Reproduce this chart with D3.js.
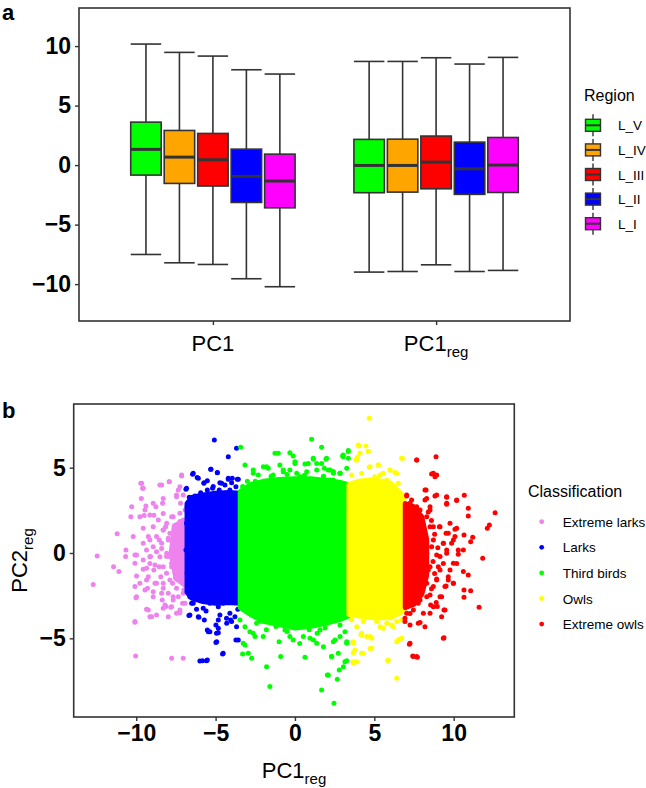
<!DOCTYPE html>
<html>
<head>
<meta charset="utf-8">
<script src="https://cdn.jsdelivr.net/npm/d3@7"></script>
<style>
  html, body { margin: 0; padding: 0; background: #fff; }
  svg { display: block; font-family: "Liberation Sans", Arial, Helvetica, sans-serif; }
</style>
</head>
<body>
<svg id="chart" width="646" height="788"></svg>
<script>
// ---------------- Panel a data (boxplots) ----------------
const groups = ["PC1", "PC1reg"];
const regions = ["L_V", "L_IV", "L_III", "L_II", "L_I"];
const regionColors = ["#00FF00", "#FFA500", "#FF0000", "#0000FF", "#FF00FF"];
const yTicksA = [-10, -5, 0, 5, 10];

// PC1 (order L_V .. L_I)
const pc1Min = [-7.51, -8.21, -8.35, -9.55, -10.22];
const pc1Q1  = [-0.84, -1.54, -1.76, -3.14, -3.59];
const pc1Med = [1.32, 0.67, 0.45, -0.95, -1.34];
const pc1Q3  = [3.61, 2.91, 2.66, 1.34, 0.92];
const pc1Max = [10.17, 9.47, 9.16, 8.01, 7.65];

// PC1reg
const regMin = [-8.99, -8.94, -8.38, -8.94, -8.85];
const regQ1  = [-2.32, -2.27, -1.99, -2.46, -2.30];
const regMed = [-0.03, -0.03, 0.25, -0.31, 0.00];
const regQ3  = [2.16, 2.18, 2.44, 1.93, 2.32];
const regMax = [8.71, 8.71, 9.02, 8.49, 9.05];

// ---------------- Panel b data (scatter) ----------------
const classes = ["Extreme larks", "Larks", "Third birds", "Owls", "Extreme owls"];
const classColors = ["#EE82EE", "#0000FF", "#00FF00", "#FFFF00", "#FF0000"];
const xTicksB = [-10, -5, 0, 5, 10];
const yTicksB = [-5, 0, 5];

// outlines of the fully overlapped (solid) part of each class
const extremeLarksCore = [[-7.6,1.6],[-6.9,1.9],[-6.9,-1.9],[-7.5,-1.5],[-7.8,0]];
const larksCore = [[-6.8,2.9],[-6.5,3.25],[-5.8,3.4],[-5.0,3.5],[-4.2,3.55],[-3.45,3.5],[-3.45,-2.95],[-4.2,-2.9],[-5.0,-2.95],[-5.8,-2.85],[-6.5,-2.65],[-6.8,-2.3]];
const thirdBirdsCore = [[-3.45,3.6],[-2.8,4.0],[-2,4.2],[-1,4.3],[0,4.35],[1,4.35],[2,4.25],[2.8,4.15],[3.35,4.0],[3.35,-3.7],[2.8,-3.9],[2,-4.1],[1,-4.3],[0,-4.4],[-1,-4.2],[-2,-4.0],[-2.8,-3.6],[-3.45,-3.2]];
const owlsCore = [[3.4,4.0],[4,4.2],[5,4.3],[6,4.1],[6.85,3.3],[6.85,-3.4],[6,-3.8],[5,-3.8],[4,-3.7],[3.4,-3.6]];
const extremeOwlsCore = [[6.95,2.9],[7.5,2.7],[8.0,2.1],[8.3,0.8],[8.3,-1.3],[8.0,-2.4],[7.5,-3.0],[6.95,-3.2]];

// individually visible points
const extremeLarksPts = [
  [-12.71,-1.84],[-12.46,-0.18],[-11.20,1.13],[-11.43,-0.80],[-11.09,-1.09],[-10.65,0.18],[-10.67,-0.21],
  [-10.29,2.71],[-10.34,2.13],[-10.19,0.96],[-10.08,-0.12],[-9.98,-1.35],[-10.08,-1.97],[-10.02,-2.62],
  [-10.08,-4.06],[-10.04,-6.04],[-9.71,4.08],[-9.60,3.79],[-9.68,3.20],[-9.39,2.75],[-9.50,2.19],[-9.56,1.45],
  [-9.24,0.96],[-9.35,0.18],[-9.10,-0.21],[-9.14,-0.61],[-9.56,-0.96],[-9.24,-1.39],[-9.29,-2.07],[-9.35,-3.30],
  [-9.03,-3.73],[-8.93,1.54],[-8.89,2.21],[-8.76,2.71],[-8.51,3.98],[-8.34,2.91],[-8.30,2.32],[-8.72,0.08],
  [-8.55,-0.80],[-8.45,-1.39],[-8.30,-2.07],[-8.36,-2.75],[-8.13,-3.14],[-7.98,-3.73],[-7.77,-6.17],[-7.04,-6.17],
  [-7.67,-2.56],[-7.71,-1.78],[-7.56,-1.00],[-7.46,3.30],[-7.92,4.18],[-7.14,4.51],[-7.35,3.69],[-7.21,2.91],
  [-7.25,-3.50],[-7.08,-2.95],[-7.00,-2.17],[-8.15,1.54],[-7.98,0.86],[-7.88,-0.21],[-8.09,-1.19],[-7.77,2.13],
  [-7.56,1.54],[-7.46,0.57],[-7.35,-0.21],[-7.50,-1.48],[-7.25,1.84],[-7.14,1.15],[-7.08,0.18],[-7.14,-0.80],
  [-7.04,-1.39],[-6.93,2.52],[-6.91,0.86],[-6.93,-0.41],[-6.91,-1.78],[-8.55,0.76],[-8.89,-1.00],[-8.72,-1.78],
  [-7.67,0.96],[-8.30,1.35],[-8.09,-0.21],[-8.40,0.27],[-7.77,-0.80],[-7.35,-2.56],[-7.82,-3.18],[-8.93,-2.56],
  [-8.72,-3.63],
  [-9.66,4.08],[-9.56,3.79],[-8.40,3.98],[-7.92,4.18],[-7.14,4.57],[-7.25,3.88],[-7.04,3.40],[-7.46,3.40],
  [-8.30,3.20],[-8.93,2.91],[-9.45,2.52],[-9.14,2.23],[-9.77,2.13],[-8.61,1.93],[-8.08,1.74],[-8.30,1.35],
  [-7.67,2.13],[-7.25,2.33],[-7.04,1.93],[-7.46,1.54],[-7.88,1.15],[-8.72,0.96],[-9.14,0.76],[-9.56,0.57],
  [-8.93,0.37],[-8.40,0.57],[-7.98,0.76],[-7.46,0.76],[-7.04,0.96],[-6.93,0.37],[-7.25,-0.02],[-7.67,0.18],
  [-8.08,-0.02],[-8.51,-0.22],[-9.14,-0.22],[-9.56,-0.41],[-9.98,-0.12],[-10.08,-0.60],[-9.35,-0.90],
  [-8.82,-0.70],[-8.30,-0.80],[-7.77,-0.60],[-7.25,-0.80],[-7.04,-1.19],[-7.46,-1.39],[-7.88,-1.58],
  [-8.30,-1.78],[-8.82,-1.78],[-9.35,-1.58],[-9.77,-1.78],[-9.45,-2.17],[-8.93,-2.27],[-8.40,-2.36],
  [-7.98,-2.36],[-7.46,-2.07],[-7.04,-2.36],[-7.67,-2.75],[-8.19,-3.05],[-7.77,-3.15],[-7.25,-3.34],
  [-6.93,-2.95],[-9.98,-2.56],[-9.24,-3.34],[-9.14,-3.73],[-10.08,-4.02],[-7.46,-3.53],[-8.30,-3.24]
];
const larksPts = [
  [-5.08,6.62],[-3.68,6.13],[-4.20,5.64],[-5.29,4.90],[-4.89,4.71],[-6.45,4.61],[-6.16,4.43],[-5.74,4.08],
  [-6.83,3.79],[-4.20,4.38],[-3.95,4.38],[-3.57,4.32],[-4.62,4.08],[-5.15,3.89],[-6.68,-3.67],[-6.05,-3.77],
  [-5.71,-3.93],[-5.46,-4.61],[-4.94,-4.71],[-4.83,-4.41],[-5.99,-6.33],[-5.57,-6.31],[-4.56,-5.92],[-3.57,-5.10],
  [-4.05,-3.93],[-4.98,-5.25],[-4.31,-3.83],[-3.68,-4.32],[-6.51,-2.95],[-4.73,-3.63],
  [-6.41,4.67],[-6.09,4.38],[-5.73,4.12],[-5.52,4.24],[-5.31,4.90],[-4.89,4.70],[-4.73,4.12],[-4.41,3.98],
  [-4.20,4.32],[-3.99,4.12],[-3.63,4.32],[-3.72,3.88],[-4.10,3.69],[-4.77,3.69],[-5.19,3.79],[-5.52,3.69],
  [-5.94,3.53],[-6.87,3.73],[-6.66,3.26],[-6.30,3.34],[-5.99,3.06],[-6.62,-3.63],[-6.09,-3.73],[-5.78,-3.24],
  [-5.36,-2.95],[-4.83,-3.15],[-4.52,-2.95],[-4.10,-3.53],[-3.78,-3.73],[-3.99,-4.02],[-4.30,-4.12],
  [-4.83,-3.93],[-4.98,-4.22],[-5.52,-4.51],[-5.36,-4.61],[-4.83,-4.67],[-4.93,-5.20],[-3.72,-5.10],
  [-4.52,-5.88],[-5.82,-6.31],[-5.52,-6.27],[-6.79,2.71],[-6.83,1.74],[-6.87,0.18],[-6.79,-1.19],
  [-6.72,-2.17],[-6.62,-2.56],[-6.41,-2.95],[-6.19,-2.36],[-3.6,-3.3],[-5.6,-3.4],[-6.2,-3.3]
];
const thirdBirdsPts = [
  [-3.42,6.19],[-3.15,5.16],[-2.63,4.86],[-1.79,5.06],[-1.26,5.84],[-1.05,5.84],[-0.32,5.88],[-0.11,5.68],
  [0.0,5.35],[1.05,6.66],[1.68,6.19],[1.16,5.49],[0.63,5.21],[2.10,4.86],[-0.74,4.86],[-2.31,4.57],
  [-2.94,-5.88],[-3.30,-5.92],[-1.79,-6.66],[-1.58,-7.83],[1.68,-8.03],[2.04,-7.15],[-0.90,-6.07],[0.63,-6.11],
  [-0.32,-4.90],[-3.15,-5.39],[-2.63,-4.71],[-2.00,-4.90],[-0.63,-4.51],[-0.11,-5.10],[0.53,-4.90],[1.16,-5.10],
  [1.58,-4.51],[-2.42,-4.12],[3.36,6.00],[3.00,5.68],[3.36,5.55],[1.95,5.49],[1.37,5.25],[1.85,4.96],
  [2.84,4.67],[2.42,4.77],[2.21,4.28],[2.46,-8.81],[2.10,-7.15],[2.67,-7.40],[2.79,-6.86],[3.05,-6.66],
  [3.26,-6.31],[2.31,-6.07],[1.79,-5.49],[1.37,-5.29],[2.42,-5.20],[3.26,-5.20],[2.84,-4.90],[0.95,-5.00],
  [0.0,5.25],[-0.32,4.86],[0.11,4.67],[1.99,5.55],[1.68,5.25],[1.15,5.55],[0.84,5.25],[1.37,4.86],
  [0.74,4.76],[2.21,4.86],[2.84,4.67],[3.04,5.64],[-1.99,5.06],[-1.68,4.96],[-2.63,4.67],[-0.95,5.16],
  [-0.74,4.76],[-1.37,4.57],[0.11,4.08],[1.58,4.08],[0.32,4.47],[2.41,4.28],[-3.0,4.2],[-3.3,3.9],
  [-3.47,-3.93],[-3.15,-4.32],[-2.84,-4.61],[-3.26,-5.29],[-2.52,-4.90],[-2.73,-6.17],
  [2.42,-3.93],[2.84,-4.22],[3.15,-4.61],[2.52,-5.10],[3.26,-5.29],[2.73,-5.88],[3.15,-6.37],[2.31,-6.07],
  [3.04,5.74],[3.36,5.94],[2.42,4.67],[2.84,4.67],[3.26,4.96],
  [-1.2,-4.3],[-0.5,-4.6],[0.9,-4.5],[1.9,-4.4],[-2.2,-4.0],[0.3,-5.3],[-1.0,-5.2],[1.4,-4.7],[-1.8,-4.5],
  [-1.5,4.5],[-0.5,4.6],[0.6,4.55],[1.8,4.5],[-2.5,4.2]
];
const owlsPts = [
  [4.68,7.89],[4.05,6.27],[4.47,6.27],[4.62,5.94],[3.93,5.61],[3.84,5.45],[5.25,5.16],[4.68,5.02],
  [6.77,5.55],[5.99,4.86],[6.30,4.71],[5.36,4.57],[3.68,-6.46],[3.89,-6.37],[3.68,-5.84],[4.20,-5.88],
  [4.73,-5.59],[4.52,-4.90],[4.83,-5.00],[4.16,-4.80],[3.68,-5.20],[5.84,-6.31],[6.41,-7.34],[6.41,-5.20],
  [6.62,-5.06],[5.36,-4.32],[6.09,-4.22],
  [3.99,6.33],[4.10,5.84],[3.89,5.45],[4.62,5.94],[6.72,5.55],[4.73,5.06],[5.25,5.16],[5.99,4.86],
  [6.41,4.67],[3.57,4.57],[4.20,4.67],[5.56,4.67],[6.51,4.08],[5.78,4.28],[5.04,4.47],[6.72,3.40],
  [4.30,4.18],[3.57,-3.93],[3.89,-4.32],[4.30,-4.02],[4.73,-4.90],[4.20,-4.71],[3.67,-5.29],[3.78,-5.68],
  [4.30,-5.88],[4.83,-5.58],[3.67,-6.37],[5.88,-6.27],[6.51,-5.10],[6.72,-5.00],[5.15,-4.02],[5.78,-4.12],
  [6.41,-4.02],[6.72,-3.93],[5.56,-4.41],[6.19,-4.32]
];
const extremeOwlsPts = [
  [7.67,5.45],[8.89,5.64],[8.61,4.63],[8.82,4.47],[8.26,3.69],[8.82,3.34],[8.19,3.11],[7.04,3.34],[7.25,2.91],
  [9.56,3.26],[9.56,2.85],[10.19,3.07],[10.67,3.38],[10.92,2.62],[10.92,2.17],[12.61,2.36],[12.25,1.64],
  [12.12,1.45],[9.10,1.54],[9.52,1.15],[10.08,1.39],[10.08,0.96],[10.65,1.05],[11.20,0.92],[11.07,0.66],
  [10.61,0.18],[10.29,-0.08],[11.83,-0.31],[10.19,-0.61],[9.77,-1.00],[10.61,-1.09],[10.92,-1.29],[9.98,-1.78],
  [9.52,-1.93],[10.65,-2.17],[11.07,-2.21],[10.65,-2.60],[11.60,-3.18],[9.39,-3.34],[8.97,-3.14],[8.55,-3.05],
  [7.88,-4.08],[8.19,-4.32],[7.21,-5.35],[7.42,-6.04],[7.67,-6.07],[9.39,-4.96],[8.93,-1.52],[9.03,-0.80],
  [9.14,-0.21],[9.56,0.18],[9.35,0.57],[8.72,1.54],[8.30,2.13],[7.88,2.52],[8.61,0.37],[8.40,-1.00],
  [8.72,-1.97],[8.30,-2.56],[7.77,-2.95],[7.25,-3.54],[6.93,-3.83],[7.56,-1.78],[7.88,-0.21],[7.56,1.35],
  [9.77,1.74],[9.87,0.57],[9.35,-0.61],[9.66,-1.58],[9.24,-2.56],[7.98,-1.39],[7.35,-1.00],[7.46,0.57],
  [8.09,0.96],[8.51,2.71],
  [7.04,3.40],[7.35,3.10],[7.67,2.71],[8.19,3.69],[8.30,3.20],[8.51,2.52],[8.93,3.40],[9.56,2.91],
  [9.56,3.30],[10.19,3.10],[8.72,4.67],[8.93,4.57],[7.67,5.45],[7.25,2.13],[7.88,1.93],[8.51,1.54],
  [9.14,1.54],[9.66,1.15],[10.19,1.45],[7.04,1.15],[7.56,0.76],[8.09,0.96],[8.72,0.76],[9.35,0.57],
  [9.98,0.76],[10.29,0.18],[7.14,-0.02],[7.67,-0.22],[8.30,-0.02],[8.93,-0.12],[9.56,-0.02],[9.98,-0.60],
  [7.25,-1.00],[7.88,-1.19],[8.51,-0.80],[9.14,-1.00],[9.66,-1.39],[7.04,-1.78],[7.67,-1.97],[8.30,-1.78],
  [8.93,-1.58],[9.45,-1.97],[9.98,-1.78],[7.25,-2.56],[7.88,-2.75],[8.51,-2.46],[9.14,-2.56],[7.46,-3.34],
  [8.09,-3.53],[8.72,-3.15],[7.04,-3.53],[7.77,-4.12],[7.25,-4.22],[8.51,-3.53],[9.45,-3.34],[9.24,-3.73],
  [7.25,-5.29],[7.46,-6.07],[7.71,-6.11],[9.35,-5.00],[6.93,-4.02],
  [8.6,1.9],[8.8,1.1],[8.7,-0.5],[8.8,-1.2],[8.6,-2.1],[8.4,2.4],[9.0,0.3],[8.9,-2.9]
];

const coreByClass = [extremeLarksCore, larksCore, thirdBirdsCore, owlsCore, extremeOwlsCore];
const ptsByClass = [extremeLarksPts, larksPts, thirdBirdsPts, owlsPts, extremeOwlsPts];

// ---------------- Drawing ----------------
const svg = d3.select("#chart");
const ink = "#333333";
const tickFont = 23;
const titleFont = 22;
const subFont = 15;

// ===== Panel a =====
const A = {left: 79, right: 570, top: 8, bottom: 321};
const xA = d3.scalePoint().domain(groups).range([A.left, A.right]).padding(0.6);
const stepA = xA.step();
const xInner = d3.scaleBand().domain(regions)
  .range([-0.375 * stepA, 0.375 * stepA]).paddingInner(0.09).paddingOuter(0.045);
const yA = d3.scaleLinear().domain([-13.1, 13.2]).range([A.bottom, A.top]);

const gA = svg.append("g");

const statsA = {
  "PC1": {min: pc1Min, q1: pc1Q1, med: pc1Med, q3: pc1Q3, max: pc1Max},
  "PC1reg": {min: regMin, q1: regQ1, med: regMed, q3: regQ3, max: regMax}
};
const boxes = [];
groups.forEach(g => regions.forEach((r, i) => {
  const s = statsA[g];
  boxes.push({g, r, i, min: s.min[i], q1: s.q1[i], med: s.med[i], q3: s.q3[i], max: s.max[i]});
}));
const bw = xInner.bandwidth();
const bx = d => xA(d.g) + xInner(d.r);
const boxG = gA.selectAll("g.box").data(boxes).join("g").attr("class", "box");
const lw = 1.6;
boxG.append("line").attr("x1", d => bx(d) + bw / 2).attr("x2", d => bx(d) + bw / 2)
  .attr("y1", d => yA(d.max)).attr("y2", d => yA(d.q3)).attr("stroke", ink).attr("stroke-width", lw);
boxG.append("line").attr("x1", d => bx(d) + bw / 2).attr("x2", d => bx(d) + bw / 2)
  .attr("y1", d => yA(d.q1)).attr("y2", d => yA(d.min)).attr("stroke", ink).attr("stroke-width", lw);
boxG.append("line").attr("x1", d => bx(d)).attr("x2", d => bx(d) + bw)
  .attr("y1", d => yA(d.max)).attr("y2", d => yA(d.max)).attr("stroke", ink).attr("stroke-width", lw);
boxG.append("line").attr("x1", d => bx(d)).attr("x2", d => bx(d) + bw)
  .attr("y1", d => yA(d.min)).attr("y2", d => yA(d.min)).attr("stroke", ink).attr("stroke-width", lw);
boxG.append("rect").attr("x", d => bx(d)).attr("width", bw)
  .attr("y", d => yA(d.q3)).attr("height", d => yA(d.q1) - yA(d.q3))
  .attr("fill", d => regionColors[d.i]).attr("stroke", ink).attr("stroke-width", lw);
boxG.append("line").attr("x1", d => bx(d)).attr("x2", d => bx(d) + bw)
  .attr("y1", d => yA(d.med)).attr("y2", d => yA(d.med)).attr("stroke", ink).attr("stroke-width", 3);

gA.append("rect").attr("x", A.left).attr("y", A.top)
  .attr("width", A.right - A.left).attr("height", A.bottom - A.top)
  .attr("fill", "none").attr("stroke", ink).attr("stroke-width", 1.6);

const yAxisA = gA.append("g").attr("transform", `translate(${A.left},0)`)
  .call(d3.axisLeft(yA).tickValues(yTicksA).tickSize(4).tickPadding(4));
const xAxisA = gA.append("g").attr("transform", `translate(0,${A.bottom})`)
  .call(d3.axisBottom(xA).tickSize(4).tickFormat(() => ""));
[yAxisA, xAxisA].forEach(ax => {
  ax.select(".domain").remove();
  ax.selectAll(".tick line").attr("stroke", ink).attr("stroke-width", 1.4);
});
yAxisA.selectAll(".tick text").attr("fill", "#000").attr("font-size", tickFont)
  .attr("font-weight", "bold").attr("font-family", "Liberation Sans, Arial, sans-serif");

function labelWithSub(sel, main, sub, subSize, subDy) {
  sel.append("tspan").text(main);
  if (sub) sel.append("tspan").attr("font-size", subSize).attr("dy", subDy).text(sub);
}
groups.forEach(g => {
  const t = gA.append("text").attr("x", xA(g)).attr("y", 351).attr("text-anchor", "middle")
    .attr("font-size", titleFont).attr("fill", "#000");
  if (g === "PC1reg") labelWithSub(t, "PC1", "reg", subFont, 6);
  else labelWithSub(t, "PC1", null);
});

svg.append("text").attr("x", 2).attr("y", 20).attr("font-size", 22).attr("font-weight", "bold").text("a");

const legA = svg.append("g");
legA.append("text").attr("x", 584).attr("y", 101).attr("font-size", 16).attr("fill", "#000").text("Region");
regions.forEach((r, i) => {
  const cy = 125.3 + i * 24.6, cx = 593;
  legA.append("line").attr("x1", cx).attr("x2", cx).attr("y1", cy - 11).attr("y2", cy + 11)
    .attr("stroke", ink).attr("stroke-width", 1.4);
  legA.append("rect").attr("x", cx - 7.5).attr("y", cy - 6).attr("width", 15).attr("height", 12)
    .attr("fill", regionColors[i]).attr("stroke", ink).attr("stroke-width", 1.4);
  legA.append("line").attr("x1", cx - 7.5).attr("x2", cx + 7.5).attr("y1", cy).attr("y2", cy)
    .attr("stroke", ink).attr("stroke-width", 2);
  legA.append("text").attr("x", 618).attr("y", cy + 5).attr("font-size", 13.5).attr("fill", "#000").text(r);
});

// ===== Panel b =====
const B = {left: 73.7, right: 514.3, top: 404, bottom: 717};
const xB = d3.scaleLinear().domain([-13.94, 13.82]).range([B.left, B.right]);
const yB = d3.scaleLinear().domain([-9.61, 8.73]).range([B.bottom, B.top]);
const gB = svg.append("g");
svg.append("clipPath").attr("id", "clipB").append("rect")
  .attr("x", B.left).attr("y", B.top).attr("width", B.right - B.left).attr("height", B.bottom - B.top);
const plotB = gB.append("g").attr("clip-path", "url(#clipB)");
const pr = 2.5;
const lineB = d3.line().x(d => xB(d[0])).y(d => yB(d[1]));
classes.forEach((c, i) => {
  plotB.append("path").attr("d", lineB(coreByClass[i]) + "Z")
    .attr("fill", classColors[i]).attr("stroke", classColors[i])
    .attr("stroke-width", pr * 2).attr("stroke-linejoin", "round");
  plotB.append("g").selectAll("circle").data(ptsByClass[i]).join("circle")
    .attr("cx", d => xB(d[0])).attr("cy", d => yB(d[1])).attr("r", pr)
    .attr("fill", classColors[i]);
});
gB.append("rect").attr("x", B.left).attr("y", B.top)
  .attr("width", B.right - B.left).attr("height", B.bottom - B.top)
  .attr("fill", "none").attr("stroke", ink).attr("stroke-width", 1.6);

const yAxisB = gB.append("g").attr("transform", `translate(${B.left},0)`)
  .call(d3.axisLeft(yB).tickValues(yTicksB).tickSize(4).tickPadding(4));
const xAxisB = gB.append("g").attr("transform", `translate(0,${B.bottom})`)
  .call(d3.axisBottom(xB).tickValues(xTicksB).tickSize(4).tickPadding(4));
[yAxisB, xAxisB].forEach(ax => {
  ax.select(".domain").remove();
  ax.selectAll(".tick line").attr("stroke", ink).attr("stroke-width", 1.4);
  ax.selectAll(".tick text").attr("fill", "#000").attr("font-size", tickFont)
    .attr("font-weight", "bold").attr("font-family", "Liberation Sans, Arial, sans-serif");
});

const xt = gB.append("text").attr("x", (B.left + B.right) / 2).attr("y", 778)
  .attr("text-anchor", "middle").attr("font-size", titleFont).attr("fill", "#000");
labelWithSub(xt, "PC1", "reg", subFont, 6);
const yt = gB.append("text").attr("transform", `translate(27,${(B.top + B.bottom) / 2}) rotate(-90)`)
  .attr("text-anchor", "middle").attr("font-size", titleFont).attr("fill", "#000");
labelWithSub(yt, "PC2", "reg", subFont, 6);

svg.append("text").attr("x", 2).attr("y", 418).attr("font-size", 22).attr("font-weight", "bold").text("b");

const legB = svg.append("g");
legB.append("text").attr("x", 528).attr("y", 497).attr("font-size", 16).attr("fill", "#000").text("Classification");
classes.forEach((c, i) => {
  const cy = 521.7 + i * 25.6;
  legB.append("circle").attr("cx", 541.7).attr("cy", cy).attr("r", 2.4).attr("fill", classColors[i]);
  legB.append("text").attr("x", 562.7).attr("y", cy + 5).attr("font-size", 13.5).attr("fill", "#000").text(c);
});
</script>
</body>
</html>
